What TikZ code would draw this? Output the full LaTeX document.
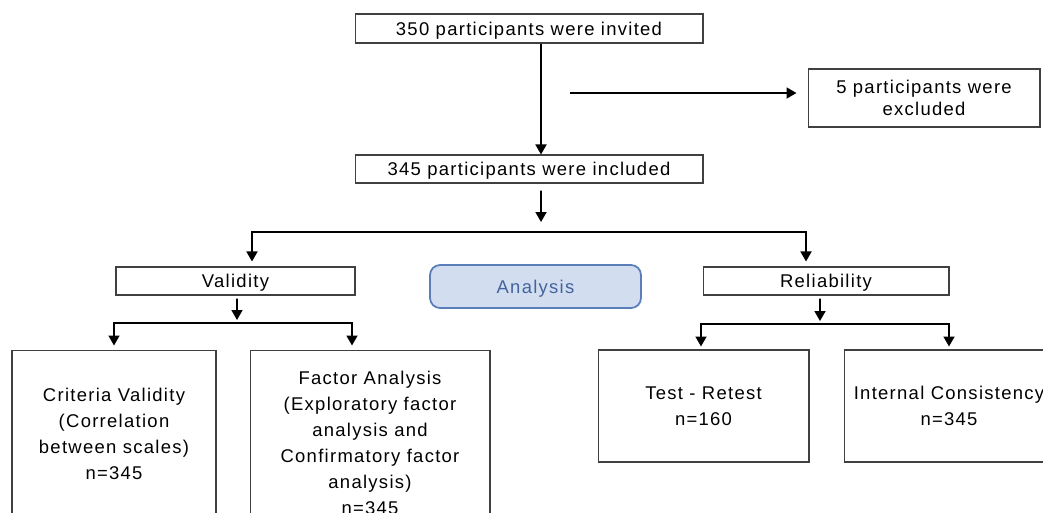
\documentclass[tikz,border=0pt]{standalone}
\usepackage{fontspec}
\setmainfont{Liberation Sans}[LetterSpace=7]
\usetikzlibrary{arrows.meta,positioning}
\definecolor{anafill}{HTML}{D2DEEF}
\definecolor{anaborder}{HTML}{5A7EB8}
\definecolor{anatext}{HTML}{44639C}
\tikzset{
  box/.style={draw=black!75, line width=0.6pt, inner sep=0pt, align=center, text depth=0pt, font=\fontsize{10.5}{14.8}\selectfont},
  conn/.style={-{Triangle[length=2mm,width=2.2mm]}, line width=1pt},
}
\begin{document}
\begin{tikzpicture}[x=0.02cm, y=-0.02cm]
    \clip (0,0) rectangle (1043,512);
    %boxes
    \node (invited) at (529,28.5) [box, minimum width=6.96cm, minimum height=0.58cm] {350 participants were invited};
    \node (excluded) at (924,98) [box, minimum width=4.64cm, minimum height=1.16cm, font=\fontsize{10.5}{12.5}\selectfont] {5 participants were\\excluded};
    \node (included) at (529,169) [box, minimum width=6.96cm, minimum height=0.56cm] {345 participants were included};
    \node (validity) at (235.5,281) [box, minimum width=4.78cm, minimum height=0.56cm] {Validity};
    \node (reliab) at (826,281) [box, minimum width=4.92cm, minimum height=0.56cm] {Reliability};
    \node (analysis) at (535.5,286.5) [box, draw=anaborder, line width=1pt, fill=anafill, text=anatext, rounded corners=0.2cm, minimum width=4.22cm, minimum height=0.86cm] {Analysis};
    \node (criteria) at (114,434) [box, minimum width=4.08cm, minimum height=3.36cm] {Criteria Validity\\(Correlation\\between scales)\\n=345};
    \node (factor) at (370,443) [box, minimum width=4.8cm, minimum height=3.72cm] {Factor Analysis\\(Exploratory factor\\analysis and\\Confirmatory factor\\analysis)\\n=345};
    \node (retest) at (703.5,406) [box, minimum width=4.22cm, minimum height=2.24cm] {Test - Retest\\n=160};
    \node (internal) at (949,406) [box, minimum width=4.2cm, minimum height=2.24cm] {Internal Consistency\\n=345};

    %arrows
    \coordinate (cut) at (570,93);
    \coordinate (split) at (541,232);
    \coordinate (vsplit) at (237,323);
    \coordinate (rsplit) at (820,324);
    \draw[conn] ([xshift=0.24cm]invited.south) -- ([xshift=0.24cm]included.north);
    \draw[conn, shorten >=0.22cm] (cut) -- (cut -| excluded.west);
    \draw[conn] ([xshift=0.24cm, yshift=-0.14cm]included.south) -- ([yshift=0.2cm]split);
    \draw[conn, shorten >=0.1cm] (split) -| ([xshift=0.33cm]validity.north);
    \draw[conn, shorten >=0.1cm] (split) -| ([xshift=-0.4cm]reliab.north);
    \draw[conn] ([xshift=0.03cm, yshift=-0.06cm]validity.south) -- ([yshift=0.06cm]vsplit);
    \draw[conn, shorten >=0.08cm] (vsplit) -| (criteria.north);
    \draw[conn, shorten >=0.08cm] (vsplit) -| ([xshift=-0.36cm]factor.north);
    \draw[conn] ([xshift=-0.12cm, yshift=-0.06cm]reliab.south) -- ([yshift=0.06cm]rsplit);
    \draw[conn, shorten >=0.06cm] (rsplit) -| ([xshift=-0.05cm]retest.north);
    \draw[conn, shorten >=0.06cm] (rsplit) -| (internal.north);
\end{tikzpicture}
\end{document}
